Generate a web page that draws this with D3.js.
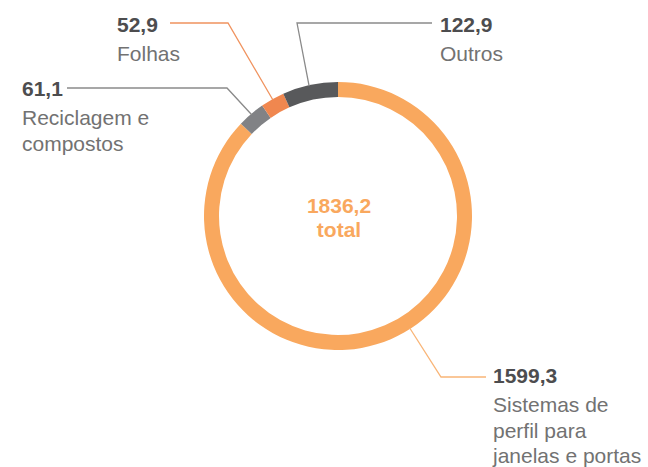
<!DOCTYPE html>
<html>
<head>
<meta charset="utf-8">
<script src="https://cdn.jsdelivr.net/npm/d3@7"></script>
<style>
  body { margin: 0; background: #fff; }
  svg { display: block; font-family: "Liberation Sans", Arial, sans-serif; }
</style>
</head>
<body>
<div id="chart"></div>
<script>
// Data
const categories = ['Sistemas de perfil para janelas e portas', 'Reciclagem e compostos', 'Folhas', 'Outros'];
const values = [1599.3, 61.1, 52.9, 122.9];
const valueLabels = ['1599,3', '61,1', '52,9', '122,9'];
const labelLines = [
    ['Sistemas de', 'perfil para', 'janelas e portas'],
    ['Reciclagem e', 'compostos'],
    ['Folhas'],
    ['Outros']
];
const totalLabel = ['1836,2', 'total'];

// Styles / layout
const WIDTH = 648;
const HEIGHT = 467;
const colors = ['#f9a85e', '#818285', '#f0874f', '#58595b'];
const lineColors = ['#f9b577', '#8a8a8a', '#f0935f', '#8a8a8a'];
const center = { x: 338, y: 216 };
const outerR = 134;
const innerR = 119;

// where along each slice the leader line starts (0..1 of the slice)
const leaderAt = [0.47, 0.5, 0.5, 0.48];

// label anchors: where the text block sits, and the elbow of the leader line
const labelPos = [
    { x: 493, y: 383, elbow: { x: 441, y: 377 }, lineEnd: 486 },
    { x: 22, y: 96, elbow: { x: 227, y: 88 }, lineEnd: 67 },
    { x: 117, y: 31.5, elbow: { x: 228, y: 23 }, lineEnd: 170 },
    { x: 440, y: 31.5, elbow: { x: 297, y: 23 }, lineEnd: 432 }
];

const svg = d3.select('#chart')
    .append('svg')
    .attr('width', WIDTH)
    .attr('height', HEIGHT);

const pie = d3.pie().sort(null).value(d => d);
const arcs = pie(values);

const arc = d3.arc().innerRadius(innerR).outerRadius(outerR);

const ring = svg.append('g')
    .attr('transform', `translate(${center.x},${center.y})`);

ring.selectAll('path')
    .data(arcs)
    .enter()
    .append('path')
    .attr('d', arc)
    .attr('fill', (d, i) => colors[i]);

// Leader lines
const lineGen = d3.line();
arcs.forEach((d, i) => {
    const pos = labelPos[i];
    const a = d.startAngle + (d.endAngle - d.startAngle) * leaderAt[i];
    const sx = center.x + Math.sin(a) * (outerR - 1);
    const sy = center.y - Math.cos(a) * (outerR - 1);
    svg.append('path')
        .attr('d', lineGen([[sx, sy], [pos.elbow.x, pos.elbow.y], [pos.lineEnd, pos.elbow.y]]))
        .attr('fill', 'none')
        .attr('stroke', lineColors[i])
        .attr('stroke-width', 1.3);
});

// Labels
labelPos.forEach((pos, i) => {
    const g = svg.append('g');
    g.append('text')
        .attr('x', pos.x)
        .attr('y', pos.y)
        .attr('font-size', 21)
        .attr('font-weight', 'bold')
        .attr('fill', '#4d4d4f')
        .text(valueLabels[i]);
    labelLines[i].forEach((line, j) => {
        g.append('text')
            .attr('x', pos.x)
            .attr('y', pos.y + 29 + j * 25.7)
            .attr('font-size', 21)
            .attr('fill', '#727272')
            .text(line);
    });
});

// Center total
svg.append('text')
    .attr('x', center.x + 1)
    .attr('y', 213)
    .attr('text-anchor', 'middle')
    .attr('font-size', 21)
    .attr('font-weight', 'bold')
    .attr('fill', '#f9a85e')
    .text(totalLabel[0]);
svg.append('text')
    .attr('x', center.x + 1)
    .attr('y', 237)
    .attr('text-anchor', 'middle')
    .attr('font-size', 21)
    .attr('font-weight', 'bold')
    .attr('fill', '#f9a85e')
    .text(totalLabel[1]);
</script>
</body>
</html>
